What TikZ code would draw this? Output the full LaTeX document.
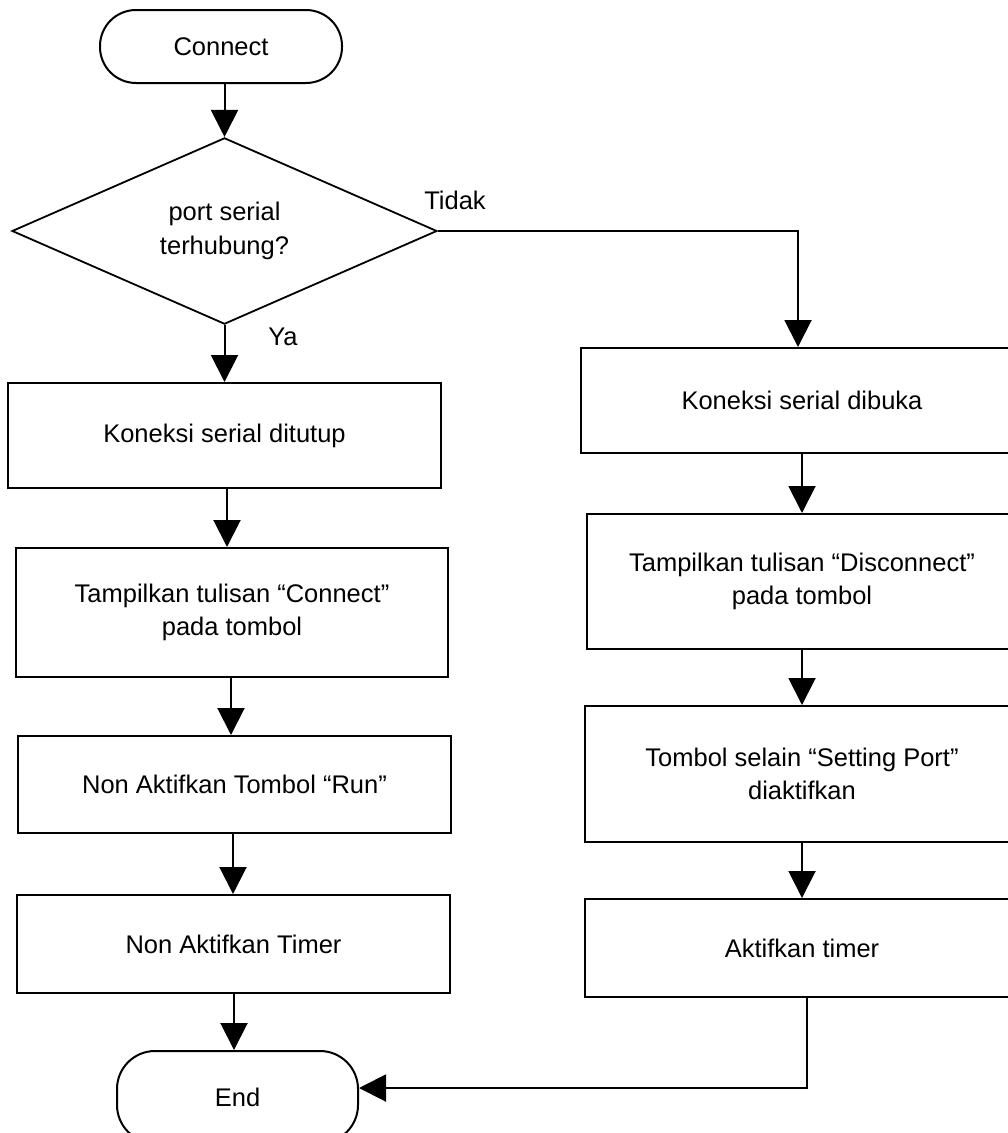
\documentclass[tikz,border=0pt]{standalone}
\usepackage{fontspec}
\setmainfont{Liberation Sans}
\usetikzlibrary{shapes.geometric,arrows.meta,calc}
\begin{document}
\begin{tikzpicture}[x=1pt,y=-1pt,
  every node/.style={font=\fontsize{25.5}{33.5}\selectfont},
  proc/.style={draw,line width=2pt,rectangle,inner sep=0pt,align=center},
  term/.style={draw,line width=2pt,rectangle,rounded corners=36pt,inner sep=0pt},
  decision/.style={draw,line width=1.8pt,diamond,inner sep=0pt,align=center},
  arr/.style={line width=2pt,-{Triangle[width=27pt,length=27pt]}},
  lbl/.style={inner sep=0pt}]
\useasboundingbox (0,0) rectangle (1008,1133);
\clip (0,0) rectangle (1008,1133);
% nodes
\node[term,minimum width=242pt,minimum height=73pt] (start) at (221,46.5) {Connect};
\node[decision,minimum width=425pt,minimum height=178pt] (dec) at (224.5,231) {port serial\\terhubung?};
\node[proc,minimum width=433pt,minimum height=105pt] (l1) at (224.5,435.5) {Koneksi serial ditutup};
\node[proc,minimum width=432pt,minimum height=129pt] (l2) at (232,612.5) {Tampilkan tulisan “Connect”\\pada tombol};
\node[proc,minimum width=433pt,minimum height=97pt] (l3) at (234.5,784.5) {Non Aktifkan Tombol “Run”};
\node[proc,minimum width=433pt,minimum height=98pt] (l4) at (233.5,944) {Non Aktifkan Timer};
\node[term,rounded corners=38pt,minimum width=241pt,minimum height=92pt] (end) at (237.5,1097) {End};
\node[proc,minimum width=442pt,minimum height=105pt] (r1) at (802,400.5) {Koneksi serial dibuka};
\node[proc,minimum width=430pt,minimum height=135pt] (r2) at (802,581.5) {Tampilkan tulisan “Disconnect”\\pada tombol};
\node[proc,minimum width=434pt,minimum height=136pt] (r3) at (802,774) {Tombol selain “Setting Port”\\diaktifkan};
\node[proc,minimum width=434pt,minimum height=98pt] (r4) at (802,948) {Aktifkan timer};
\node[lbl] (tidak) at (455,200) {Tidak};
\node[lbl] (ya) at (283,337) {Ya};
% helper coordinates
\coordinate (x1) at (227,0);
\coordinate (x2) at (231,0);
\coordinate (x3) at (233,0);
\coordinate (x4) at (234,0);
\coordinate (xr) at (798,0);
\coordinate (j) at (807,1088);
% connectors
\draw[arr] (dec.north |- start.south) -- (dec.north);
\draw[arr] (dec.south) -- (l1.north);
\draw[arr] (l1.south -| x1) -- (l2.north -| x1);
\draw[arr] (l2.south -| x2) -- (l3.north -| x2);
\draw[arr] (l3.south -| x3) -- (l4.north -| x3);
\draw[arr] (l4.south -| x4) -- (end.north -| x4);
\draw[arr] (dec.east) -| (r1.north -| xr);
\draw[arr] (r1.south) -- (r2.north);
\draw[arr] (r2.south) -- (r3.north);
\draw[arr] (r3.south) -- (r4.north);
\draw[arr] (r4.south -| j) -- (j) -- (end.east |- j);
\end{tikzpicture}
\end{document}
